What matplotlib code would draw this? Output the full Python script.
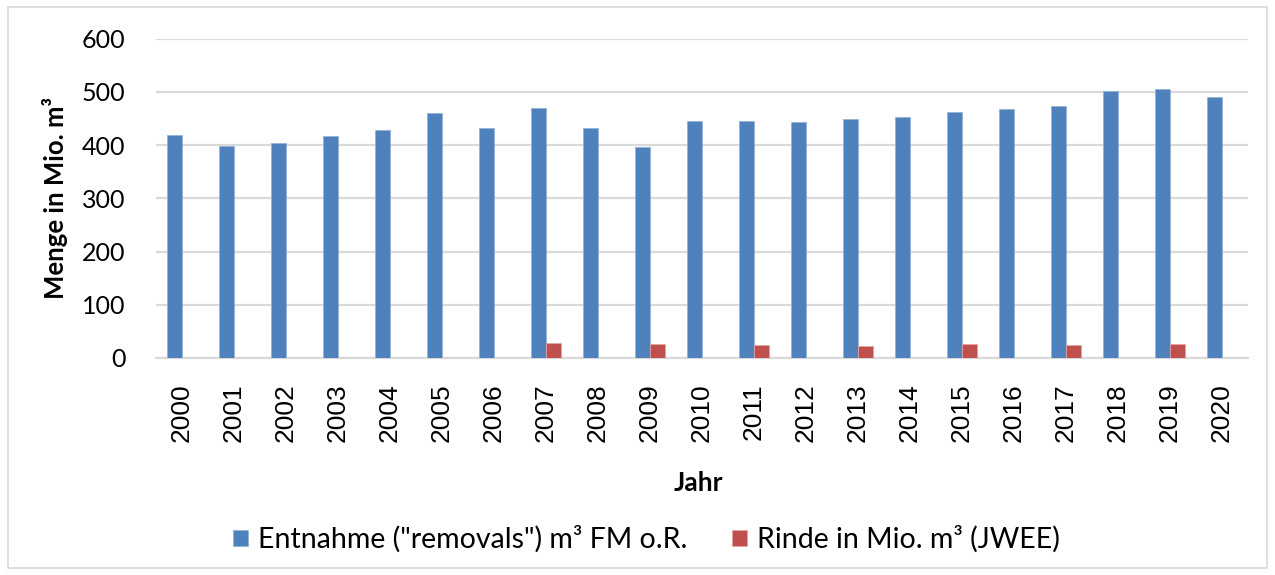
import numpy as np
import matplotlib.pyplot as plt
from matplotlib.patches import Rectangle

years = [str(y) for y in range(2000, 2021)]
entnahme = [419, 399, 404, 418, 428, 460, 433, 469, 432, 397, 446,
            446, 443, 450, 453, 462, 468, 474, 502, 506, 491]
rinde = [0, 0, 0, 0, 0, 0, 0, 29, 0, 26, 0,
         25, 0, 22, 0, 26, 0, 25, 0, 27, 0]

blue = '#4F81BD'
red = '#C0504D'

fig = plt.figure(figsize=(12.75, 5.75), dpi=100)
ax = fig.add_axes([0.1224, 0.3775, 0.8565, 0.555])

x = np.arange(len(years))
w = 0.286
b1 = ax.bar(x - w/2, entnahme, w, color=blue, edgecolor='#95B3D7', linewidth=0.6,
            label='Entnahme ("removals") m³ FM o.R.', zorder=3)
rinde_plot = [v if v > 0 else np.nan for v in rinde]
b2 = ax.bar(x + w/2, rinde_plot, w, color=red, edgecolor='#E6A5A3', linewidth=0.6,
            label='Rinde in Mio. m³ (JWEE)', zorder=3)

ax.set_xlim(-0.5, len(years) - 0.5)
ax.set_ylim(0, 600)
ax.set_yticks(range(0, 601, 100))
ax.yaxis.grid(True, color='#D9D9D9', linewidth=1.6, zorder=0)
ax.set_axisbelow(True)
for s in ['top', 'right', 'left']:
    ax.spines[s].set_visible(False)
ax.spines['bottom'].set_color('#D9D9D9')
ax.spines['bottom'].set_linewidth(1.6)
ax.tick_params(axis='both', length=0)
ax.tick_params(axis='y', pad=22)
ax.tick_params(axis='x', pad=18)

ax.set_xticks(x)
ax.set_xticklabels(years, rotation=90, fontsize=19, family='Liberation Sans')
for lab in ax.get_yticklabels():
    lab.set_fontsize(18)
    lab.set_family('Lato')

ax.set_ylabel('Menge in Mio. m³', fontsize=18.5, fontweight='bold', family='Lato', labelpad=10)
fig.text(0.548, 0.16, 'Jahr', fontsize=19, fontweight='bold', family='Lato',
         ha='center', va='center')

fig.legend(handles=[b1, b2], loc='center', bbox_to_anchor=(0.507, 0.062), ncol=2,
           frameon=False, prop={'family': 'Lato', 'size': 20.5},
           handlelength=0.5, handleheight=0.5, handletextpad=0.35, columnspacing=1.6)

fig.patches.append(Rectangle((0.006, 0.012), 0.988, 0.975, transform=fig.transFigure,
                             fill=False, edgecolor='#D9D9D9', linewidth=1.2))

fig.savefig('out.png', dpi=100)
